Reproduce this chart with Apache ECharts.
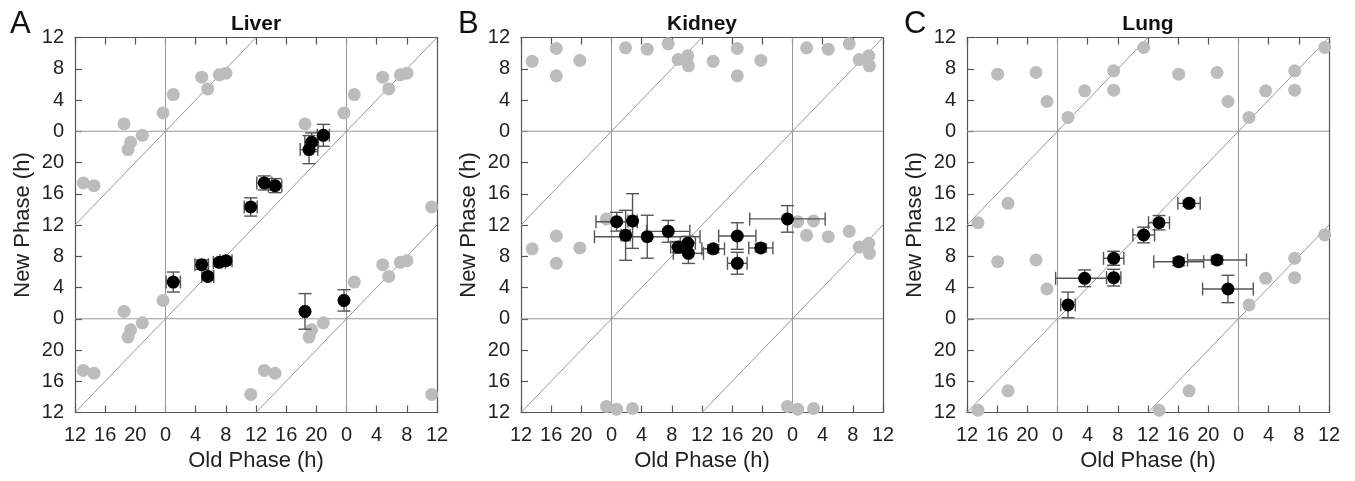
<!DOCTYPE html>
<html><head><meta charset="utf-8">
<script src="https://cdn.jsdelivr.net/npm/echarts@6/dist/echarts.min.js"></script>
<style>html,body{margin:0;padding:0;background:#fff}#c{width:1355px;height:481px}</style>
</head><body><div id="c"></div>
<script>
// ---- data (hours) ----
const tickLabels = ['12','16','20','0','4','8','12','16','20','0','4','8','12'];
const panelTitles = ['Liver','Kidney','Lung'];
const panelLetters = ['A','B','C'];
const PERIOD = 24;

const liverOld    = [1.03, 4.80, 5.60, 7.14, 8.02, 11.30, 13.10, 14.52, 19.03, 19.38, 20.93, 18.50, 23.67];
const liverNew    = [4.70, 6.92, 5.42, 7.22, 7.43, 14.31, 17.38, 17.04, 21.65, 22.59, 23.48, 0.94, 2.35];
const liverOldErr = [0.95, 0.90, 0.80, 0.80, 0.80, 0.86, 1.00, 0.90, 1.17, 0.90, 0.80, 0.30, 0.30];
const liverNewErr = [1.28, 0.60, 0.50, 0.50, 0.50, 1.17, 0.90, 0.90, 1.80, 1.20, 1.40, 2.28, 1.37];

const kidneyOld    = [0.68, 1.87, 2.79, 4.74, 7.52, 8.84, 10.12, 10.20, 13.48, 16.68, 16.68, 19.80, 23.33];
const kidneyNew    = [12.42, 10.68, 12.51, 10.50, 11.19, 9.18, 9.66, 8.38, 8.95, 10.59, 7.10, 9.06, 12.78];
const kidneyOldErr = [2.74, 0.60, 0.60, 7.00, 2.87, 1.00, 1.00, 2.00, 1.50, 2.47, 1.30, 1.60, 5.00];
const kidneyNewErr = [1.20, 3.20, 3.50, 2.75, 1.40, 0.70, 0.90, 1.30, 0.50, 1.70, 1.40, 0.50, 1.70];

const lungOld    = [1.39, 3.60, 7.45, 7.45, 11.43, 13.46, 17.44, 16.07, 21.15, 22.60];
const lungNew    = [1.77, 5.18, 7.74, 5.26, 10.72, 12.29, 14.77, 7.30, 7.52, 3.81];
const lungOldErr = [0.97, 3.85, 1.35, 0.95, 1.44, 1.39, 1.48, 3.31, 3.91, 3.36];
const lungNewErr = [1.64, 1.07, 0.90, 1.07, 1.00, 0.92, 0.40, 0.50, 0.50, 1.75];

// reference lines: phase boundaries and identity diagonals (x1,y1,x2,y2)
const refLines = [[0,-12,0,36],[24,-12,24,36],[-12,0,36,0],[-12,24,36,24],[-12,-12,36,36],[-12,12,12,36],[12,-12,36,12]];

const panels = [
  {old: liverOld, neu: liverNew, oe: liverOldErr, ne: liverNewErr},
  {old: kidneyOld, neu: kidneyNew, oe: kidneyOldErr, ne: kidneyNewErr},
  {old: lungOld, neu: lungNew, oe: lungOldErr, ne: lungNewErr}
];

// ---- chart ----
const FONT = 'Liberation Sans, Arial, Helvetica, sans-serif';
const gridLefts = [75, 521, 967];
const GW = 362, GH = 375, GT = 37.5;
const AX = '#555';
const fmt = v => tickLabels[Math.round((v + 12) / 4)];

const grids = [], xAxes = [], yAxes = [], series = [], graphics = [];
panels.forEach((p, i) => {
  grids.push({left: gridLefts[i], top: GT, width: GW, height: GH, containLabel: false});
  const base = {gridIndex: i, type: 'value', min: -12, max: 36, interval: 4, splitLine: {show: false},
    axisLine: {show: true, onZero: false, lineStyle: {color: AX, width: 1.2}},
    axisTick: {show: true, inside: true, length: 7, lineStyle: {color: AX, width: 1.2}}};
  xAxes.push(Object.assign({}, base, {position: 'bottom',
    axisLabel: {formatter: fmt, fontSize: 20, color: '#222', margin: 13, fontFamily: FONT},
    name: 'Old Phase (h)', nameLocation: 'middle', nameGap: 31,
    nameTextStyle: {fontSize: 22, color: '#222', fontFamily: FONT}}));
  xAxes.push(Object.assign({}, base, {position: 'top', axisLabel: {show: false}}));
  yAxes.push(Object.assign({}, base, {position: 'left',
    axisLabel: {formatter: fmt, fontSize: 20, color: '#222', margin: 11, fontFamily: FONT},
    name: 'New Phase (h)', nameLocation: 'middle', nameGap: 41,
    nameTextStyle: {fontSize: 22, color: '#222', fontFamily: FONT}}));
  yAxes.push(Object.assign({}, base, {position: 'right', axisLabel: {show: false}, axisTick: {show: false}}));

  const xi = i * 2, yi = i * 2;
  // reference lines
  series.push({type: 'custom', xAxisIndex: xi, yAxisIndex: yi, z: 1, silent: true,
    data: refLines, encode: {x: [0, 2], y: [1, 3]},
    renderItem: (params, api) => {
      const a = api.coord([api.value(0), api.value(1)]);
      const b = api.coord([api.value(2), api.value(3)]);
      return {type: 'line', shape: {x1: a[0], y1: a[1], x2: b[0], y2: b[1]},
        style: {stroke: '#999', lineWidth: 1}};
    }});
  // periodic (gray) copies
  const gray = [];
  p.old.forEach((o, k) => {
    [-PERIOD, 0, PERIOD].forEach(dx => [-PERIOD, 0, PERIOD].forEach(dy => {
      if (dx === 0 && dy === 0) return;
      const x = o + dx, y = p.neu[k] + dy;
      if (x >= -12 && x <= 36 && y >= -12 && y <= 36) gray.push([x, y]);
    }));
  });
  series.push({type: 'scatter', xAxisIndex: xi, yAxisIndex: yi, z: 2, silent: true,
    symbolSize: 13, itemStyle: {color: '#bcbcbc', opacity: 1}, data: gray});
  // error bars
  const errData = p.old.map((o, k) => [o, p.neu[k], p.oe[k], p.ne[k]]);
  series.push({type: 'custom', xAxisIndex: xi, yAxisIndex: yi, z: 3, silent: true,
    data: errData, encode: {x: 0, y: 1},
    renderItem: (params, api) => {
      const x = api.value(0), y = api.value(1), ex = api.value(2), ey = api.value(3);
      const c = api.coord([x, y]);
      const l = api.coord([x - ex, y]), r = api.coord([x + ex, y]);
      const t = api.coord([x, y + ey]), b = api.coord([x, y - ey]);
      const cap = 6.5;
      const st = {stroke: '#555', lineWidth: 1.4};
      const L = (x1, y1, x2, y2) => ({type: 'line', shape: {x1, y1, x2, y2}, style: st});
      return {type: 'group', children: [
        L(l[0], c[1], r[0], c[1]), L(l[0], c[1] - cap, l[0], c[1] + cap), L(r[0], c[1] - cap, r[0], c[1] + cap),
        L(c[0], t[1], c[0], b[1]), L(c[0] - cap, t[1], c[0] + cap, t[1]), L(c[0] - cap, b[1], c[0] + cap, b[1])
      ]};
    }});
  // main (black) points
  series.push({type: 'scatter', xAxisIndex: xi, yAxisIndex: yi, z: 4, silent: true,
    symbolSize: 13, itemStyle: {color: '#000', opacity: 1}, data: p.old.map((o, k) => [o, p.neu[k]])});

  graphics.push({type: 'text', x: gridLefts[i] + GW / 2, y: 24,
    style: {text: panelTitles[i], font: 'bold 21px ' + FONT, fill: '#111', textAlign: 'center', textVerticalAlign: 'middle'}});
});
graphics.push({type: 'text', x: 10, y: 24, style: {text: panelLetters[0], font: '31px ' + FONT, fill: '#111', textAlign: 'left', textVerticalAlign: 'middle'}});
graphics.push({type: 'text', x: 458, y: 24, style: {text: panelLetters[1], font: '31px ' + FONT, fill: '#111', textAlign: 'left', textVerticalAlign: 'middle'}});
graphics.push({type: 'text', x: 904, y: 24, style: {text: panelLetters[2], font: '31px ' + FONT, fill: '#111', textAlign: 'left', textVerticalAlign: 'middle'}});

const chart = echarts.init(document.getElementById('c'), null, {renderer: 'canvas'});
chart.setOption({
  animation: false, backgroundColor: '#fff',
  textStyle: {fontFamily: FONT},
  grid: grids, xAxis: xAxes, yAxis: yAxes, series: series, graphic: graphics
});
</script></body></html>
